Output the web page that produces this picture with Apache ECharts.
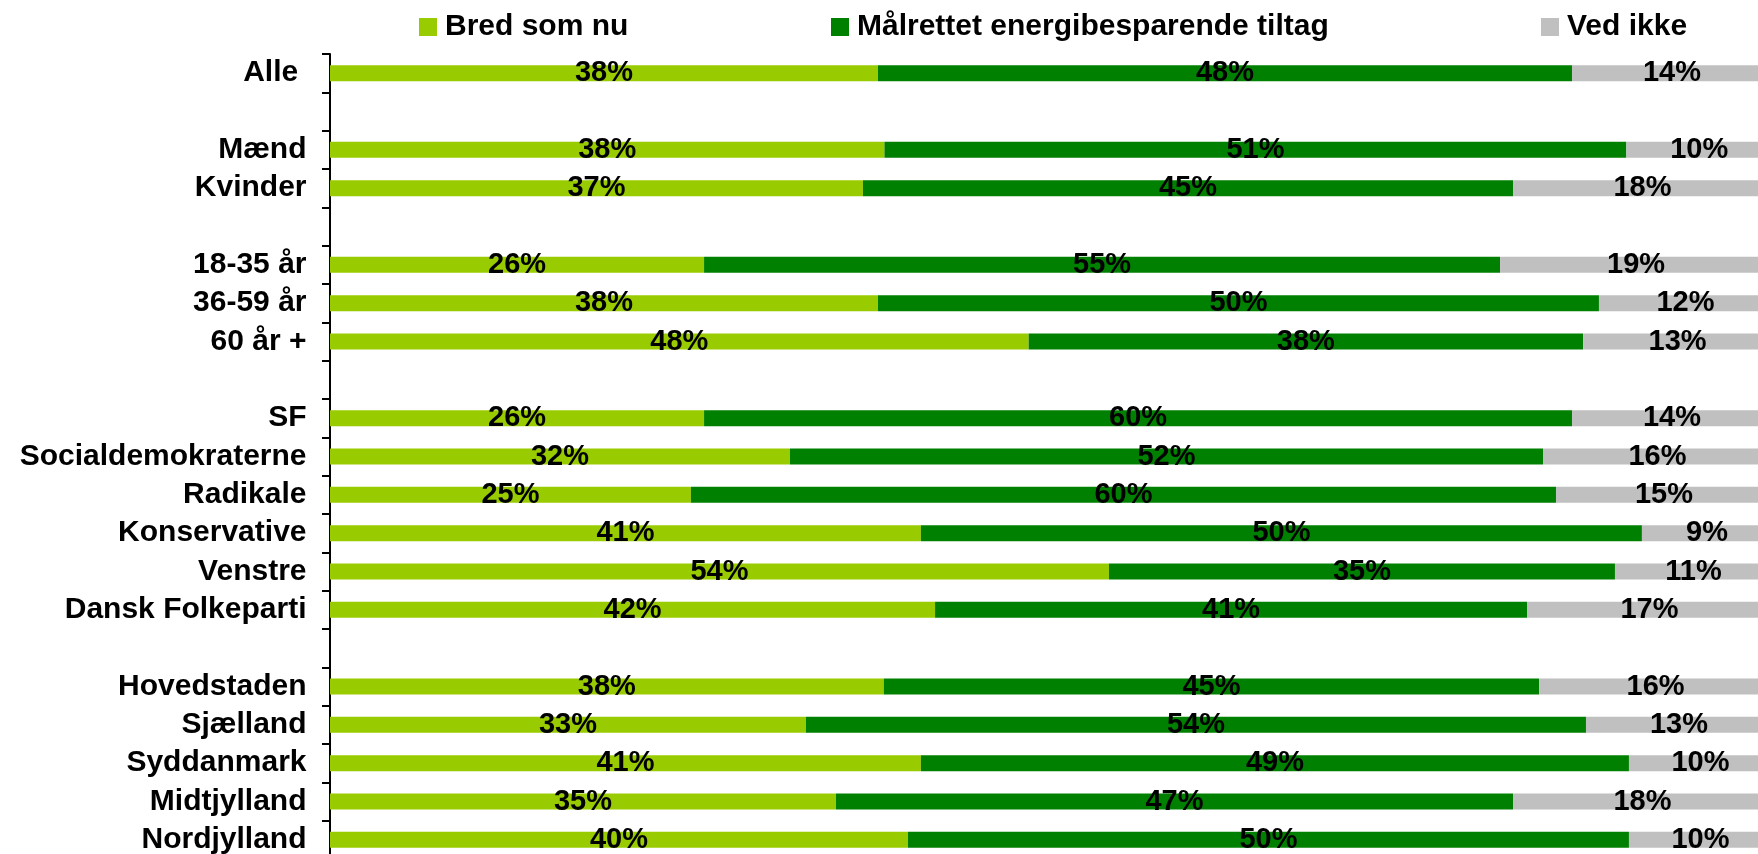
<!DOCTYPE html>
<html>
<head>
<meta charset="utf-8">
<script src="https://cdn.jsdelivr.net/npm/echarts@6/dist/echarts.min.js"></script>
<style>
  html, body { margin: 0; padding: 0; background: #fff; }
  #main { width: 1758px; height: 854px; }
</style>
</head>
<body>
<div id="main"></div>
<script>
// rows, blank strings are the gaps between groups
const categories = ['Alle ', '', 'Mænd', 'Kvinder', ' ', '18-35 år', '36-59 år', '60 år +', '  ',
  'SF', 'Socialdemokraterne', 'Radikale', 'Konservative', 'Venstre', 'Dansk Folkeparti', '   ',
  'Hovedstaden', 'Sjælland', 'Syddanmark', 'Midtjylland', 'Nordjylland'];

// shares in % (labels show them rounded)
const bredSomNu = [38.0, null, 38.45, 36.96, null, 25.94, 38.0, 48.45, null,
  25.94, 31.9, 25.03, 40.98, 54.02, 41.96, null, 38.4, 33.0, 40.98, 35.09, 40.08];
const maalrettet = [48.13, null, 51.45, 45.08, null, 55.2, 50.0, 38.45, null,
  60.19, 52.22, 59.99, 50.0, 35.09, 41.05, null, 45.45, 54.1, 49.1, 46.95, 50.0];
const vedIkke = [13.87, null, 10.1, 17.96, null, 18.86, 12.0, 13.1, null,
  13.87, 15.88, 14.98, 9.02, 10.89, 16.99, null, 16.15, 12.9, 9.92, 17.96, 9.92];

const font = "'Liberation Sans', Arial, sans-serif";

const chart = echarts.init(document.getElementById('main'));

const label = {
  show: true,
  position: 'inside',
  formatter: function (p) { return Math.round(p.value) + '%'; },
  color: '#000',
  fontFamily: font,
  fontWeight: 'bold',
  fontSize: 29,
  textBorderWidth: 0
};

function legendAt(name, left) {
  return {
    data: [name],
    left: left,
    top: 12,
    padding: 0,
    itemWidth: 18,
    itemHeight: 18,
    icon: 'rect',
    selectedMode: false,
    textStyle: {
      fontFamily: font, fontWeight: 'bold', fontSize: 30, color: '#000',
      lineHeight: 30, padding: [0, 0, 0, 3]
    }
  };
}

const option = {
  animation: false,
  legend: [
    legendAt('Bred som nu', 419),
    legendAt('Målrettet energibesparende tiltag', 831),
    legendAt('Ved ikke', 1541)
  ],
  // the plot runs past the right and bottom edges of the picture
  grid: { left: 330, top: 54, width: 1442, height: 805, containLabel: false, outerBoundsMode: 'none' },
  xAxis: { type: 'value', min: 0, max: 100, show: false },
  yAxis: {
    type: 'category',
    data: categories,
    inverse: true,
    offset: 1.5,
    axisLine: { lineStyle: { color: '#000', width: 2 } },
    axisTick: { show: true, interval: 0, length: 8, lineStyle: { color: '#000', width: 2 } },
    axisLabel: {
      interval: 0, margin: 22, color: '#000',
      fontFamily: font, fontWeight: 'bold', fontSize: 30
    },
    splitLine: { show: false }
  },
  series: [
    { name: 'Bred som nu', type: 'bar', stack: 'all', barWidth: 16, data: bredSomNu,
      itemStyle: { color: '#99CC00' }, label: label },
    { name: 'Målrettet energibesparende tiltag', type: 'bar', stack: 'all', barWidth: 16, data: maalrettet,
      itemStyle: { color: '#008000' }, label: label },
    { name: 'Ved ikke', type: 'bar', stack: 'all', barWidth: 16, data: vedIkke,
      itemStyle: { color: '#C0C0C0' }, label: label }
  ]
};

chart.setOption(option);
</script>
</body>
</html>
